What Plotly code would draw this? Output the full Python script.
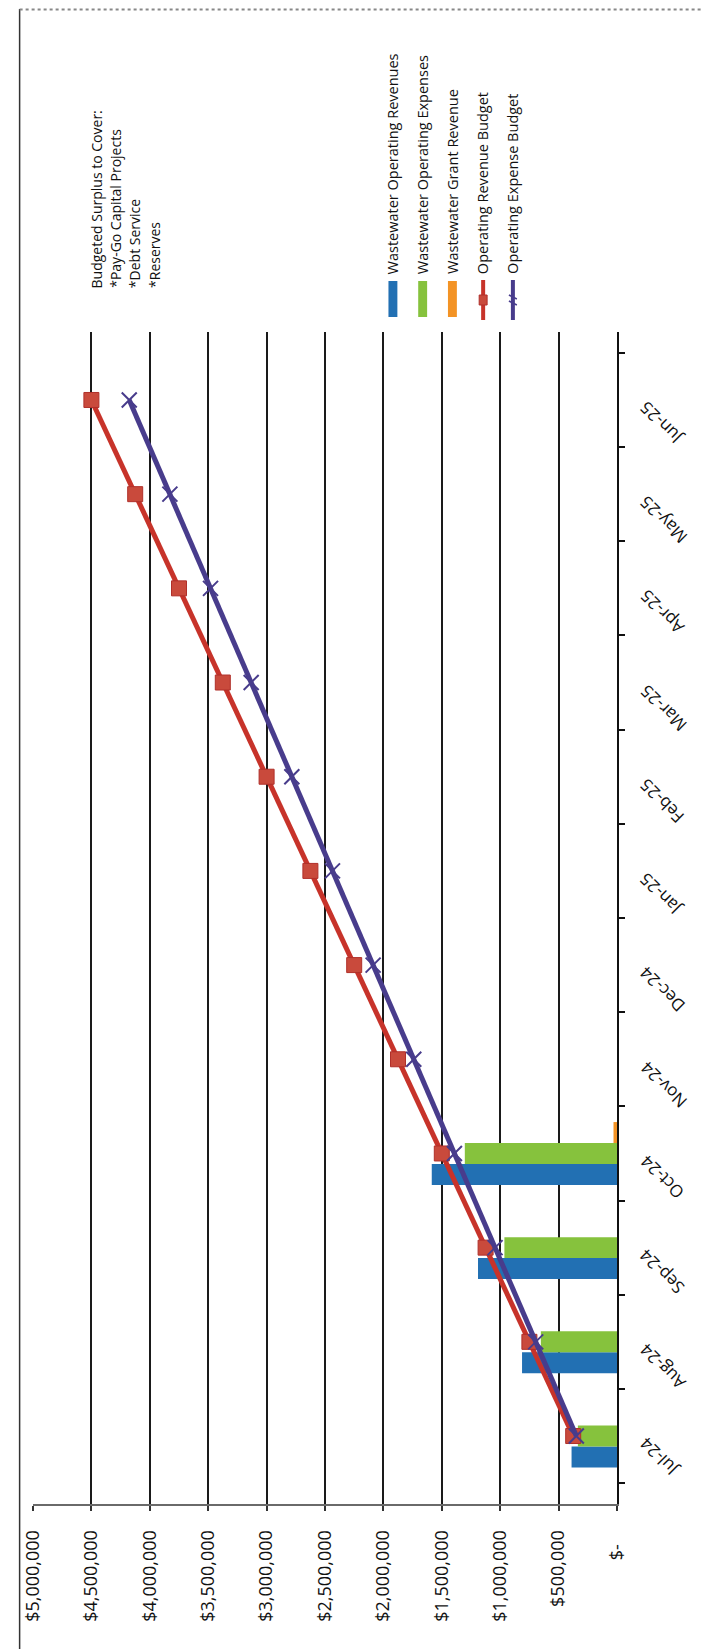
import plotly.graph_objects as go

# ---------------- data ----------------
months = ["Jul-24", "Aug-24", "Sep-24", "Oct-24", "Nov-24", "Dec-24",
          "Jan-25", "Feb-25", "Mar-25", "Apr-25", "May-25", "Jun-25"]
op_revenues = [389000, 813000, 1190000, 1586000, None, None, None, None, None, None, None, None]
op_expenses = [335000, 652000, 964000, 1303000, None, None, None, None, None, None, None, None]
grant_revenue = [0, 0, 0, 30000, None, None, None, None, None, None, None, None]
revenue_budget = [375000, 750000, 1125000, 1500000, 1875000, 2250000,
                  2625000, 3000000, 3375000, 3750000, 4125000, 4500000]
expense_budget = [348000, 696000, 1044000, 1392000, 1740000, 2088000,
                  2436000, 2784000, 3132000, 3480000, 3828000, 4176000]
value_ticks = [0, 500000, 1000000, 1500000, 2000000, 2500000,
               3000000, 3500000, 4000000, 4500000, 5000000]
value_tick_text = ["$-\u00a0\u00a0\u00a0", "$500,000", "$1,000,000", "$1,500,000", "$2,000,000",
                   "$2,500,000", "$3,000,000", "$3,500,000", "$4,000,000", "$4,500,000", "$5,000,000"]
series_names = ["Wastewater Operating Revenues", "Wastewater Operating Expenses",
                "Wastewater Grant Revenue", "Operating Revenue Budget", "Operating Expense Budget"]
note_lines = ["Budgeted Surplus to Cover:", "*Pay-Go Capital Projects", "*Debt Service", "*Reserves"]

# ---------------- style ----------------
W, H = 710, 1649
L, R, T, B = 20, 101, 324, 153
PW, PH = W - L - R, H - T - B
FONT = "Open Sans"
BLUE, GREEN, ORANGE = "#2270B3", "#86C23D", "#F39325"
RED, PURPLE = "#C7332A", "#483C8C"


def xp(px):
    return (px - L) / PW


def yp(py):
    return 1 - (py - T) / PH


fig = go.Figure()
fig.add_trace(go.Bar(y=months, x=op_revenues, orientation="h", name=series_names[0],
                     marker=dict(color=BLUE, line=dict(width=0))))
fig.add_trace(go.Bar(y=months, x=op_expenses, orientation="h", name=series_names[1],
                     marker=dict(color=GREEN, line=dict(width=0))))
fig.add_trace(go.Bar(y=months, x=grant_revenue, orientation="h", name=series_names[2],
                     marker=dict(color=ORANGE, line=dict(width=0))))
fig.add_trace(go.Scatter(y=months, x=revenue_budget, mode="lines+markers", name=series_names[3],
                         line=dict(color=RED, width=5),
                         marker=dict(symbol="square", size=15, color="#C94A3C",
                                     line=dict(color="#B0302A", width=1))))
fig.add_trace(go.Scatter(y=months, x=expense_budget, mode="lines+markers", name=series_names[4],
                         line=dict(color=PURPLE, width=5),
                         marker=dict(symbol="x-thin-open", size=15,
                                     line=dict(color=PURPLE, width=2))))

fig.update_layout(
    width=W, height=H,
    margin=dict(l=L, r=R, t=T, b=B, pad=0),
    paper_bgcolor="white", plot_bgcolor="white",
    showlegend=False,
    barmode="group", bargap=0.333, bargroupgap=0,
    font=dict(family=FONT, color="#111"),
)
fig.update_xaxes(
    range=[5000000, 0], tickvals=value_ticks, ticktext=value_tick_text,
    tickangle=-90, tickfont=dict(size=18, family=FONT, color="#111"),
    showgrid=True, gridcolor="#1a1a1a", gridwidth=1.8,
    zeroline=False, showline=True, linecolor="#6a6a6a", linewidth=2,
    ticks="outside", ticklen=5, tickcolor="#333", tickwidth=1.5,
    ticklabelstandoff=12,
)
fig.update_yaxes(
    side="right", type="category", categoryorder="array", categoryarray=months,
    showticklabels=False, showgrid=False, zeroline=False,
    showline=True, linecolor="#111", linewidth=2,
    ticks="outside", ticklen=6, tickcolor="#111", tickwidth=1.5,
    tickson="boundaries",
)

ann = []
# category labels (rotated like the reference)
for m in months:
    ann.append(dict(x=xp(624), xref="paper", y=m, yref="y", text=m, showarrow=False,
                    textangle=-135, xanchor="left", yanchor="top", yshift=6,
                    font=dict(size=17, family=FONT, color="#111")))
# legend texts
leg_x = [383, 413, 443, 474, 504]
for name, lx in zip(series_names, leg_x):
    ann.append(dict(x=xp(lx), xref="paper", y=yp(268), yref="paper", text=name, showarrow=False,
                    textangle=-90, xanchor="center", yanchor="bottom",
                    font=dict(size=14.5, family=FONT, color="#111")))
# note text
note_x = [84, 103, 122.5, 142]
for line, nx in zip(note_lines, note_x):
    ann.append(dict(x=xp(nx), xref="paper", y=yp(282), yref="paper", text=line, showarrow=False,
                    textangle=-90, xanchor="center", yanchor="bottom",
                    font=dict(size=14, family=FONT, color="#111")))
fig.update_layout(annotations=ann)

shapes = []
# legend swatches
for col, lx in zip([BLUE, GREEN, ORANGE], leg_x[:3]):
    shapes.append(dict(type="rect", xref="paper", yref="paper",
                       x0=xp(lx - 4.5), x1=xp(lx + 4.5), y0=yp(309), y1=yp(273),
                       fillcolor=col, line=dict(width=0)))
shapes.append(dict(type="line", xref="paper", yref="paper", x0=xp(474), x1=xp(474),
                   y0=yp(312), y1=yp(272), line=dict(color=RED, width=4)))
shapes.append(dict(type="rect", xref="paper", yref="paper", x0=xp(470), x1=xp(478),
                   y0=yp(297), y1=yp(287), fillcolor="#C94A3C", line=dict(color="#B0302A", width=1)))
shapes.append(dict(type="line", xref="paper", yref="paper", x0=xp(504), x1=xp(504),
                   y0=yp(312), y1=yp(272), line=dict(color=PURPLE, width=4)))
for dy in (-3, 3):
    shapes.append(dict(type="line", xref="paper", yref="paper", x0=xp(500), x1=xp(508),
                       y0=yp(292 + dy - 2), y1=yp(292 + dy + 2), line=dict(color=PURPLE, width=1.5)))
# outer frame (left, top, right)
shapes.append(dict(type="line", xref="paper", yref="paper", x0=xp(6.5), x1=xp(6.5),
                   y0=yp(1649), y1=yp(1), line=dict(color="#333", width=1.5)))
shapes.append(dict(type="line", xref="paper", yref="paper", x0=xp(6.5), x1=xp(708),
                   y0=yp(1.5), y1=yp(1.5), line=dict(color="#888", width=2, dash="dot")))
shapes.append(dict(type="line", xref="paper", yref="paper", x0=xp(708), x1=xp(708),
                   y0=yp(1643), y1=yp(1), line=dict(color="#444", width=1)))
fig.update_layout(shapes=shapes)

fig.write_html("out.html")
